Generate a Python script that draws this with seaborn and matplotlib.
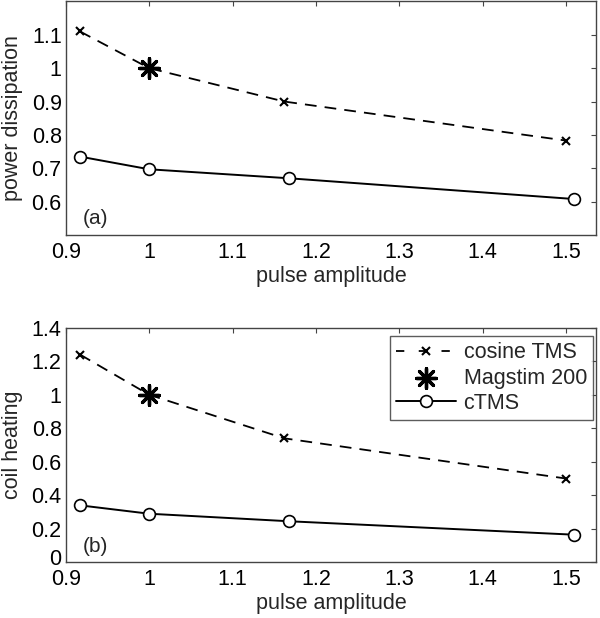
import pandas as pd
import matplotlib
matplotlib.use("Agg")
import matplotlib.pyplot as plt
import matplotlib.transforms as mtransforms
import seaborn as sns

# data
cos_x = [0.917, 1.0, 1.162, 1.5]
cos_power = [1.11, 1.0, 0.90, 0.783]
cos_heat = [1.24, 1.0, 0.74, 0.50]

ctms_x = [0.917, 1.0, 1.168, 1.509]
ctms_power = [0.735, 0.697, 0.670, 0.608]
ctms_heat = [0.34, 0.29, 0.245, 0.165]

mag_x = [1.0]
mag_power = [1.0]
mag_heat = [1.0]

xticks = [0.9, 1.0, 1.1, 1.2, 1.3, 1.4, 1.5]
xticklabels = ["0.9", "1", "1.1", "1.2", "1.3", "1.4", "1.5"]

sns.set_style("white")
plt.rcParams["font.family"] = ["Liberation Sans", "DejaVu Sans"]

fig = plt.figure(figsize=(6, 6.18), dpi=100)
ax1 = fig.add_axes([0.1097, 0.6197, 0.8837, 0.378])
ax2 = fig.add_axes([0.1097, 0.0901, 0.8837, 0.3796])

panels = [
    (ax1, cos_power, ctms_power, mag_power, "power dissipation", (0.5, 1.2),
     [0.6, 0.7, 0.8, 0.9, 1.0, 1.1], ["0.6", "0.7", "0.8", "0.9", "1", "1.1"], "(a)", 0.07),
    (ax2, cos_heat, ctms_heat, mag_heat, "coil heating", (0, 1.4),
     [0, 0.2, 0.4, 0.6, 0.8, 1.0, 1.2, 1.4], ["0", "0.2", "0.4", "0.6", "0.8", "1", "1.2", "1.4"], "(b)", 0.066),
]

for ax, cy, ty, my, ylab, ylim, yt, ytl, tag, tag_y in panels:
    d_cos = pd.DataFrame({"x": cos_x, "y": cy})
    d_ctms = pd.DataFrame({"x": ctms_x, "y": ty})
    d_mag = pd.DataFrame({"x": mag_x, "y": my})

    sns.lineplot(data=d_cos, x="x", y="y", ax=ax, color="black", lw=1.3,
                 marker="x", markersize=6, mew=1.5, mec="black",
                 label="cosine TMS")
    ax.lines[-1].set_dashes((6.5, 4.5))
    sns.scatterplot(data=d_mag, x="x", y="y", ax=ax, color="black",
                    marker=(8, 2, 0), s=200, linewidth=2.4, edgecolor="black",
                    label="Magstim 200", zorder=5)
    sns.lineplot(data=d_ctms, x="x", y="y", ax=ax, color="black", lw=1.4,
                 marker="o", markersize=8.5, mfc="white", mec="black", mew=1.2,
                 label="cTMS")

    ax.set_xlim(0.9, 1.536)
    ax.set_ylim(*ylim)
    ax.set_xticks(xticks)
    ax.set_xticklabels(xticklabels)
    ax.set_yticks(yt)
    ax.set_yticklabels(ytl)
    ax.tick_params(direction="in", length=3.5, width=0.8, top=True, right=True,
                   labelsize=15.5, colors="#444444", labelcolor="black")
    ax.tick_params(axis="x", pad=5)
    ax.tick_params(axis="y", pad=3)
    for s in ax.spines.values():
        s.set_color("#444444")
        s.set_linewidth(1.0)
    ax.set_xlabel("pulse amplitude", fontsize=15.5, labelpad=2)
    ax.set_ylabel(ylab, fontsize=15.5, labelpad=6)
    ax.text(0.032, tag_y, tag, transform=ax.transAxes, fontsize=15,
            va="center", ha="left")

# lift the lowest y label a little, as in the reference
lab0 = ax2.get_yticklabels()[0]
lab0.set_transform(lab0.get_transform() +
                   mtransforms.ScaledTranslation(0, 4 / 72, fig.dpi_scale_trans))

ax1.get_legend().remove()
h, l = ax2.get_legend_handles_labels()
leg = ax2.legend(h, l, loc="upper right", bbox_to_anchor=(0.995, 0.965),
                 borderaxespad=0, fontsize=15.5, handlelength=2.8,
                 frameon=True, fancybox=False, edgecolor="#333333",
                 labelspacing=0.2, handletextpad=0.33, borderpad=0.3)
leg.get_frame().set_linewidth(1.0)
leg.legend_handles[0].set_dashes((4.6, 8))

fig.savefig("out.png", dpi=100, facecolor="white")
